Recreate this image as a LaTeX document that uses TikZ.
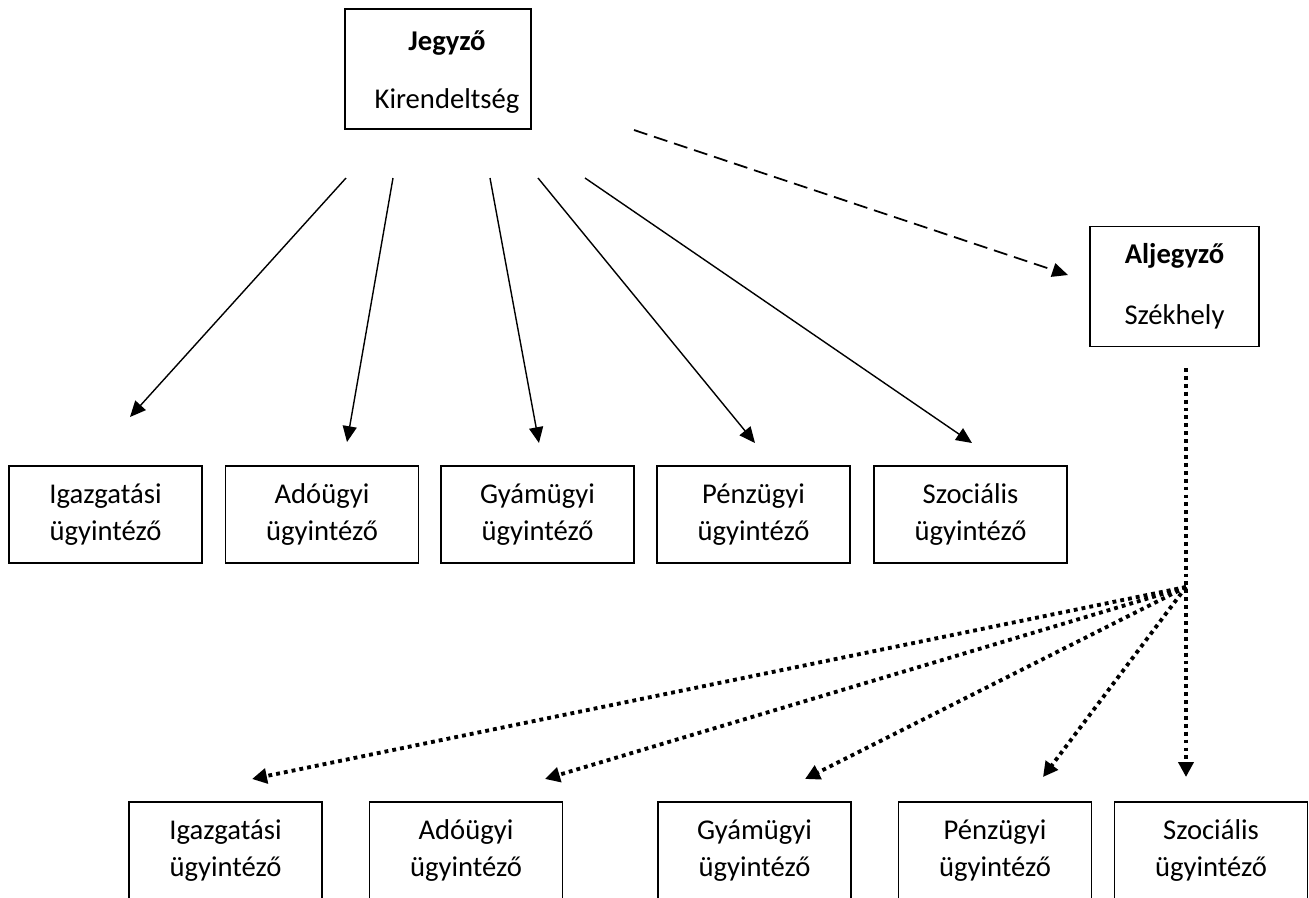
\documentclass[tikz,border=0pt]{standalone}
\usepackage{fontspec}
\setmainfont{Carlito}
\usetikzlibrary{arrows.meta}

\tikzset{
  box/.style={draw, line width=1pt, align=center, inner sep=0pt,
    minimum width=3.86cm, minimum height=1.94cm},
  headbox/.style={box, minimum height=2.4cm},
  arr/.style={line width=0.8pt, -{Triangle[length=9pt,width=8pt]}},
  dasharr/.style={arr, line width=1pt, dash pattern=on 8pt off 4pt},
  dotarr/.style={line width=2.2pt, dash pattern=on 2.2pt off 2.3pt,
    -{Triangle[length=8.5pt,width=8.5pt]}}
}

\begin{document}
\begin{tikzpicture}[x=0.02cm, y=-0.02cm, font=\fontsize{16.3}{21}\selectfont]
  \useasboundingbox (0,0) rectangle (1309,897);

  % vezetők
  \node[headbox, minimum width=3.72cm] (jegyzo) at (438,69) {};
  \node[align=center, inner sep=0pt] (jegyzotxt) at (447,72) {\textbf{Jegyző}\\[12pt]Kirendeltség};
  \node[headbox, minimum width=3.38cm] (aljegyzo) at (1174.5,286.5) {\textbf{Aljegyző}\\[14pt]Székhely};

  % kirendeltség ügyintézői
  \node[box] (kigaz) at (105.5,514.5) {Igazgatási\\ügyintéző};
  \node[box] (kado) at (322,514.5) {Adóügyi\\ügyintéző};
  \node[box] (kgyam) at (537.5,514.5) {Gyámügyi\\ügyintéző};
  \node[box] (kpenz) at (753.5,514.5) {Pénzügyi\\ügyintéző};
  \node[box] (kszoc) at (970.5,514.5) {Szociális\\ügyintéző};

  % székhely ügyintézői
  \node[box] (szigaz) at (225.5,850.5) {Igazgatási\\ügyintéző};
  \node[box] (szado) at (466,850.5) {Adóügyi\\ügyintéző};
  \node[box] (szgyam) at (754.5,850.5) {Gyámügyi\\ügyintéző};
  \node[box] (szpenz) at (995,850.5) {Pénzügyi\\ügyintéző};
  \node[box] (szszoc) at (1211,850.5) {Szociális\\ügyintéző};

  % szabad végpontok
  \coordinate (j1) at (346,178);
  \coordinate (j2) at (393,178);
  \coordinate (j3) at (490,178);
  \coordinate (j4) at (538,178);
  \coordinate (j5) at (585,178);
  \coordinate (t1) at (130,417);
  \coordinate (t2) at (347,442);
  \coordinate (t3) at (539,443);
  \coordinate (t4) at (755,443);
  \coordinate (t5) at (972,443);
  \coordinate (d1) at (634,130);
  \coordinate (d2) at (1068,275);
  \coordinate (s0) at (1186,368);
  \coordinate (hub) at (1186,587);
  \coordinate (b1) at (252,779);
  \coordinate (b2) at (545,779);
  \coordinate (b3) at (805,779);
  \coordinate (b4) at (1043,777);
  \coordinate (b5) at (1186,777);

  \draw[arr] (j1) -- (t1);
  \draw[arr] (j2) -- (t2);
  \draw[arr] (j3) -- (t3);
  \draw[arr] (j4) -- (t4);
  \draw[arr] (j5) -- (t5);
  \draw[dasharr] (d1) -- (d2);

  \draw[dotarr] (s0) -- (b5);
  \draw[dotarr] (hub) -- (b1);
  \draw[dotarr] (hub) -- (b2);
  \draw[dotarr] (hub) -- (b3);
  \draw[dotarr] (hub) -- (b4);
\end{tikzpicture}
\end{document}
